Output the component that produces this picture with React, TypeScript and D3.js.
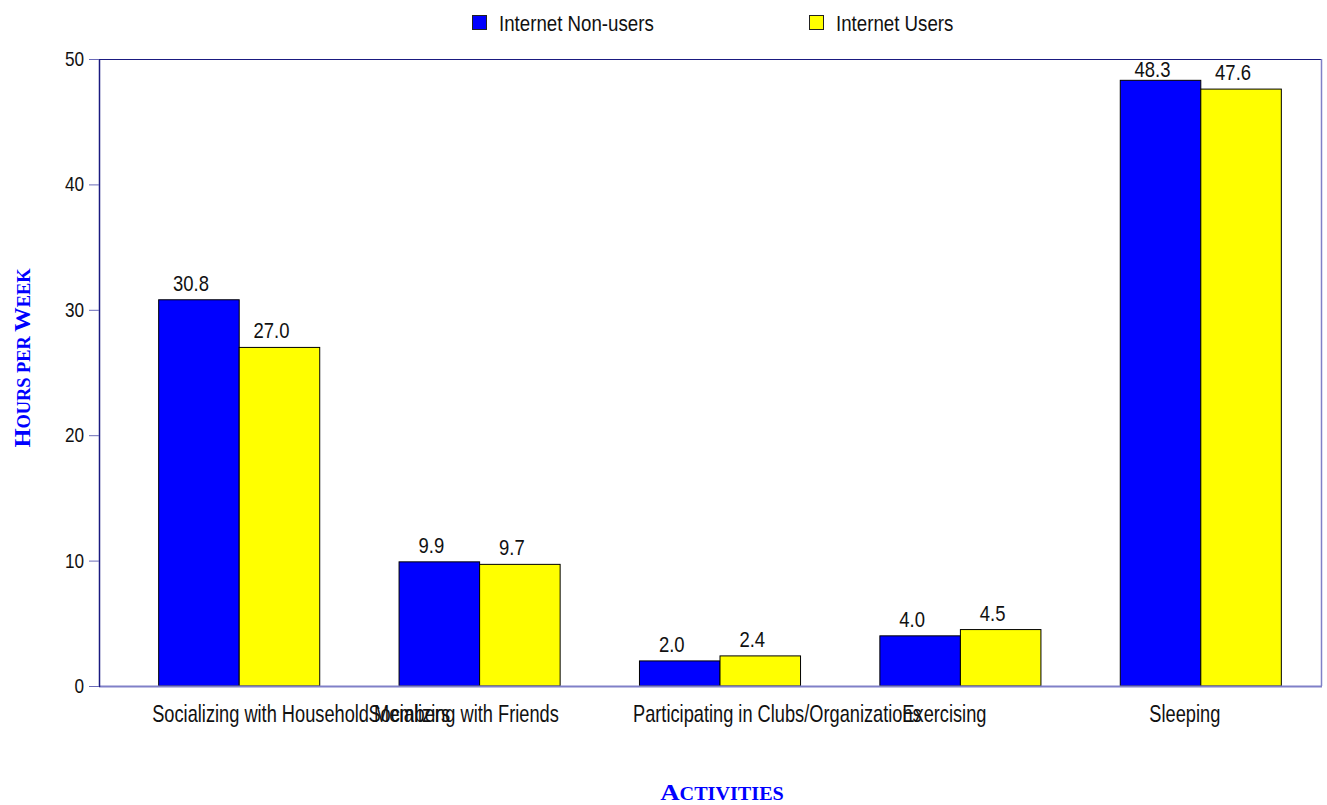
import React from "react";
import * as d3 from "d3";

const categories = [
  "Socializing with Household Members",
  "Socializing with Friends",
  "Participating in Clubs/Organizations",
  "Exercising",
  "Sleeping",
];
const nonUsers = [30.8, 9.9, 2.0, 4.0, 48.3];
const users = [27.0, 9.7, 2.4, 4.5, 47.6];
const yTicks = [0, 10, 20, 30, 40, 50];
const seriesNames = ["Internet Non-users", "Internet Users"];
const seriesColors = ["#0000ff", "#ffff00"];

const W = 1327;
const H = 805;
const plot = { left: 99, right: 1321, top: 59, bottom: 686 };
const SANS = "'Liberation Sans', Arial, sans-serif";
const SERIF = "'Liberation Serif', 'Times New Roman', serif";

function NText({ x, y, sx, size, anchor, children, fill = "#111" }: any) {
  return (
    <text
      transform={`translate(${x},${y}) scale(${sx},1)`}
      textAnchor={anchor}
      fontFamily={SANS}
      fontSize={size}
      fill={fill}
    >
      {children}
    </text>
  );
}

function SmallCaps({ text, big, small }: { text: string; big: number; small: number }) {
  // uppercase letters at full size, lowercase letters as reduced capitals
  const runs: { s: string; up: boolean }[] = [];
  for (const ch of text) {
    const up = ch !== " " && ch === ch.toUpperCase();
    const last = runs[runs.length - 1];
    if (last && last.up === up) last.s += ch;
    else runs.push({ s: ch, up });
  }
  return (
    <>
      {runs.map((r, i) => (
        <tspan key={i} fontSize={r.up ? big : small}>
          {r.s.toUpperCase()}
        </tspan>
      ))}
    </>
  );
}

export default function App() {
  const x = d3
    .scaleBand<string>()
    .domain(categories)
    .range([119, 1321])
    .paddingInner(0.33)
    .paddingOuter(0.165);
  const xs = d3
    .scaleBand<string>()
    .domain(["0", "1"])
    .range([0, x.bandwidth()]);
  const y = d3.scaleLinear().domain([0, 50]).range([plot.bottom, plot.top]);
  const series = [nonUsers, users];

  return (
    <svg
      width={W}
      height={H}
      style={{ position: "absolute", left: 0, top: 0, background: "#fff" }}
    >
      {/* legend */}
      {seriesNames.map((name, i) => {
        const lx = i === 0 ? 472 : 809;
        return (
          <g key={name}>
            <rect x={lx + 0.5} y={15.5} width={14} height={14} fill={seriesColors[i]} stroke="#222" strokeWidth={1} />
            <NText x={lx + 27} y={31} sx={0.85} size={22} anchor="start">
              {name}
            </NText>
          </g>
        );
      })}

      {/* bars */}
      {categories.map((c, ci) =>
        series.map((s, si) => {
          const bx = (x(c) as number) + (xs(String(si)) as number);
          const bw = xs.bandwidth();
          const top = y(s[ci]);
          let base = top - 9;
          if (base - 15 < plot.top + 5) base = top - 3;
          return (
            <g key={c + si}>
              <rect
                x={bx}
                y={top}
                width={bw}
                height={plot.bottom - top}
                fill={seriesColors[si]}
                stroke="#000"
                strokeWidth={1}
              />
              <NText x={bx + bw / 2 - 8} y={base} sx={0.84} size={22} anchor="middle">
                {s[ci].toFixed(1)}
              </NText>
            </g>
          );
        })
      )}

      {/* frame */}
      <line x1={plot.left} x2={plot.right} y1={plot.top + 0.5} y2={plot.top + 0.5} stroke="#1a1a80" strokeWidth={1} />
      <line x1={plot.right + 0.5} x2={plot.right + 0.5} y1={plot.top} y2={plot.bottom} stroke="#8080c8" strokeWidth={1.5} />
      <line x1={plot.left} x2={plot.right + 1} y1={plot.bottom + 0.5} y2={plot.bottom + 0.5} stroke="#8080c8" strokeWidth={2} />
      <line x1={plot.left + 0.5} x2={plot.left + 0.5} y1={plot.top} y2={plot.bottom + 1} stroke="#1a1a80" strokeWidth={1.5} />

      {/* y ticks */}
      {yTicks.map((t) => (
        <g key={t}>
          <line x1={plot.left - 10} x2={plot.left} y1={y(t) + 0.5} y2={y(t) + 0.5} stroke="#6a6ab8" strokeWidth={1} />
          <NText x={84} y={y(t) + 7} sx={0.86} size={20} anchor="end">
            {t}
          </NText>
        </g>
      ))}

      {/* x labels */}
      {categories.map((c) => {
        const cx = (x(c) as number) + x.bandwidth() / 2;
        const long = c.length > 30;
        return (
          <NText key={c} x={long ? cx - 87 : cx - 16} y={722} sx={0.76} size={24} anchor={long ? "start" : "middle"}>
            {c}
          </NText>
        );
      })}

      {/* axis titles */}
      <text
        transform={`translate(30,358) rotate(-90) scale(1.02,1)`}
        textAnchor="middle"
        fontFamily={SERIF}
        fontWeight="bold"
        fill="#0000ff"
      >
        <SmallCaps text="Hours per Week" big={24} small={18} />
      </text>
      <text
        transform={`translate(722,800) scale(1.12,1)`}
        textAnchor="middle"
        fontFamily={SERIF}
        fontWeight="bold"
        fill="#0000ff"
      >
        <SmallCaps text="Activities" big={24} small={18} />
      </text>
    </svg>
  );
}
